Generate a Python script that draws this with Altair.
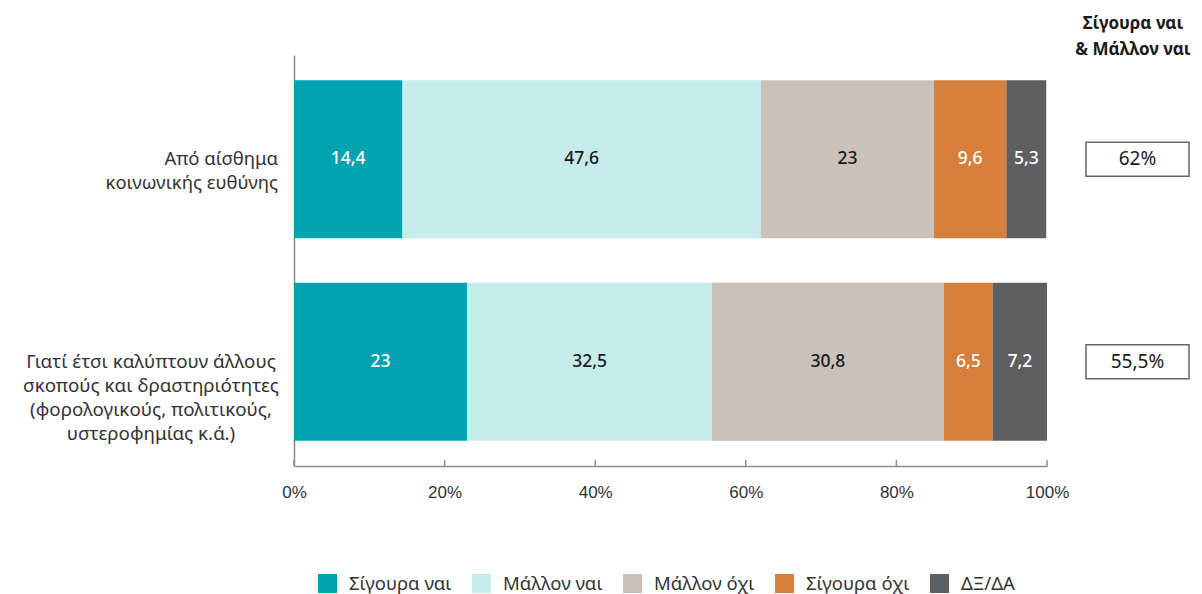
import altair as alt
import pandas as pd

# ---------------- data ----------------
categories = [
    "Από αίσθημα\nκοινωνικής ευθύνης",
    "Γιατί έτσι καλύπτουν άλλους\nσκοπούς και δραστηριότητες\n(φορολογικούς, πολιτικούς,\nυστεροφημίας κ.ά.)",
]
responses = ["Σίγουρα ναι", "Μάλλον ναι", "Μάλλον όχι", "Σίγουρα όχι", "ΔΞ/ΔΑ"]
values_social = [14.4, 47.6, 23, 9.6, 5.3]
values_other = [23, 32.5, 30.8, 6.5, 7.2]
totals = ["62%", "55,5%"]
header = "Σίγουρα ναι\n& Μάλλον ναι"
tick_values = [0, 20, 40, 60, 80, 100]

colors = ["#00A3B0", "#C5EBEB", "#C9C1BA", "#D67E3C", "#5E5F61"]
dark_text = ["Μάλλον ναι", "Μάλλον όχι"]

rows = []
for cat, vals in zip(categories, [values_social, values_other]):
    for i, (r, v) in enumerate(zip(responses, vals)):
        rows.append({"cat": cat, "resp": r, "value": v, "idx": i})
df = pd.DataFrame(rows)
df_tot = pd.DataFrame({"cat": categories, "total": totals})
df_ticks = pd.DataFrame({"t": tick_values})
df_head = pd.DataFrame({"h": [header]})

W, H = 753, 411
FONT = "Noto Sans"
AXIS_GRAY = "#8c8c8c"

x_scale = alt.Scale(domain=[0, 100], nice=False)
x_axis = alt.Axis(
    values=tick_values, labelExpr="datum.value + '%'", tickSize=0, labelPadding=18,
    labelFontSize=17, labelColor="#333333", labelFont="Liberation Sans", grid=False,
    labelFlush=False, title=None, domainColor=AXIS_GRAY, domainWidth=1.5,
)
y_enc = alt.Y(
    "cat:N", sort=categories, title=None,
    scale=alt.Scale(paddingInner=0.22, paddingOuter=0.125),
    axis=alt.Axis(labels=False, ticks=False, domainColor=AXIS_GRAY, domainWidth=1.5, title=None),
)

bars = alt.Chart(df).mark_bar().encode(
    x=alt.X("value:Q", stack="zero", scale=x_scale, axis=x_axis),
    y=y_enc,
    color=alt.Color(
        "resp:N", sort=responses,
        scale=alt.Scale(domain=responses, range=colors),
        legend=alt.Legend(
            orient="none", legendX=24, legendY=519, direction="horizontal", title=None,
            symbolType="square", symbolSize=361, symbolStrokeWidth=0, symbolOpacity=1,
            labelFontSize=18.5, labelFont=FONT, labelColor="#333333", labelOffset=12,
            columnPadding=20, padding=0, labelLimit=300,
        ),
    ),
    order=alt.Order("idx:Q"),
)

seg_labels = alt.Chart(df).transform_stack(
    stack="value", groupby=["cat"], as_=["v0", "v1"], sort=[alt.SortField("idx")]
).transform_calculate(
    mid="(datum.v0 + datum.v1) / 2",
    lab="replace(format(datum.value, '.1~f'), '.', ',')",
    tc="indexof(%s, datum.resp) >= 0 ? '#1a1a1a' : '#ffffff'" % str(dark_text),
).mark_text(fontSize=17.5, font=FONT, fontWeight=500, baseline="middle", align="center").encode(
    x=alt.X("mid:Q", scale=x_scale, axis=x_axis),
    y=y_enc,
    text="lab:N",
    color=alt.Color("tc:N", scale=None, legend=None),
)

ticks = alt.Chart(df_ticks).mark_rule(color=AXIS_GRAY, strokeWidth=1.5).encode(
    x=alt.X("t:Q", scale=x_scale, axis=x_axis),
    y=alt.value(H - 6),
    y2=alt.value(H),
)

cat_label_1 = alt.Chart(pd.DataFrame({"cat": categories})).transform_filter(
    alt.datum.cat == categories[0]
).mark_text(align="right", baseline="middle", lineBreak="\n", lineHeight=24,
            fontSize=18.5, font=FONT, color="#333333").encode(
    y=y_enc, x=alt.value(-16), text="cat:N"
)
cat_label_2 = alt.Chart(pd.DataFrame({"cat": categories})).transform_filter(
    alt.datum.cat == categories[1]
).mark_text(align="center", baseline="middle", lineBreak="\n", lineHeight=24,
            fontSize=18.8, font=FONT, color="#333333").encode(
    y=y_enc, x=alt.value(-143), text="cat:N"
)

boxes = alt.Chart(df_tot).mark_bar(height=34, fill="white", stroke="#666666", strokeWidth=1.5).encode(
    y=y_enc, x=alt.value(792), x2=alt.value(895)
)
box_text = alt.Chart(df_tot).mark_text(fontSize=19, font=FONT, color="#1a1a1a", baseline="middle").encode(
    y=y_enc, x=alt.value(843.5), text="total:N"
)
head = alt.Chart(df_head).mark_text(
    fontSize=17, font=FONT, fontWeight="bold", color="#1a1a1a", lineBreak="\n",
    lineHeight=26, baseline="middle", align="center"
).encode(x=alt.value(839), y=alt.value(-31), text="h:N")

chart = alt.layer(
    bars, seg_labels, ticks, cat_label_1, cat_label_2, boxes, box_text, head
).resolve_scale(color="independent").properties(
    width=W, height=H,
    autosize=alt.AutoSizeParams(type="none"),
    padding={"left": 286, "top": 47, "right": 147, "bottom": 128},
).configure_view(stroke=None)

chart.save("out.html", embed_options={"renderer": "svg", "actions": False})
